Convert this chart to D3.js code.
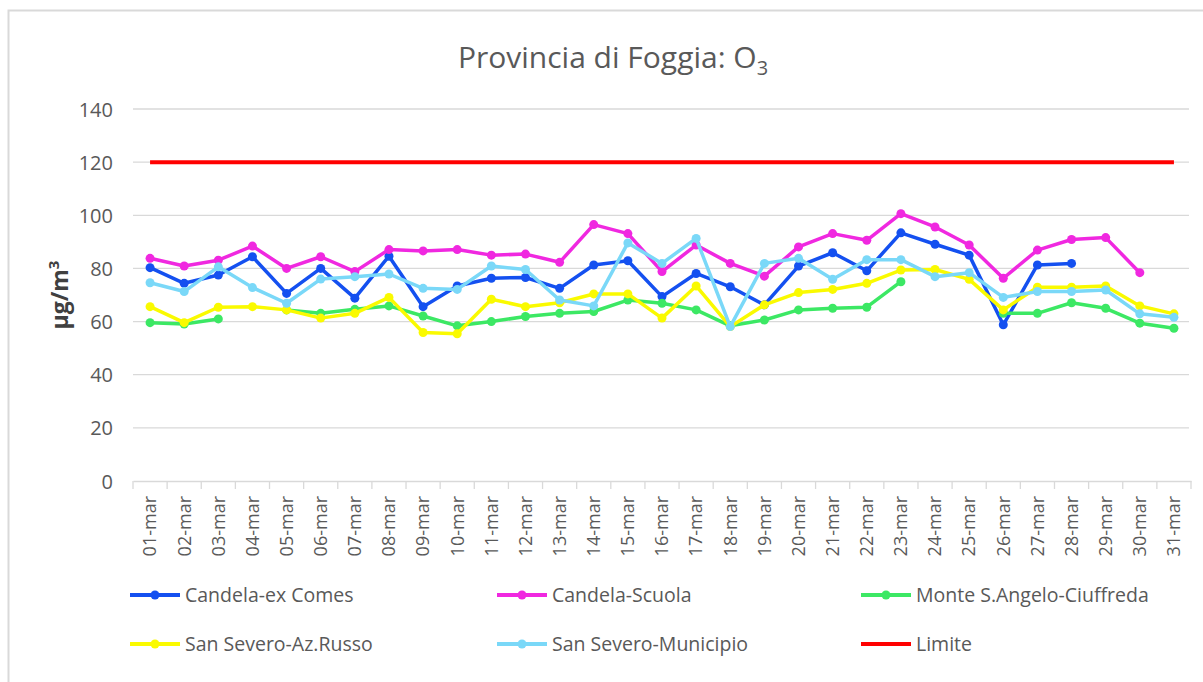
<!DOCTYPE html>
<html>
<head>
<meta charset="utf-8">
<script src="https://cdn.jsdelivr.net/npm/d3@7"></script>
<style>
  body { margin: 0; background: #fff; }
  text { font-family: "Open Sans", "Liberation Sans", sans-serif; fill: #595959; }
</style>
</head>
<body>
<script>
const days = d3.range(1, 32).map(d => (d < 10 ? "0" + d : "" + d) + "-mar");
const yTicks = [0, 20, 40, 60, 80, 100, 120, 140];

const candelaExComes = [80.3, 74.4, 77.5, 84.4, 70.6, 80.0, 68.8, 84.6, 65.6, 73.4,
  76.3, 76.6, 72.5, 81.3, 82.9, 69.4, 78.1, 73.1, 66.3, 80.9,
  85.9, 79.1, 93.4, 89.1, 85.0, 58.8, 81.3, 81.9, null, null, null];
const candelaScuola = [83.8, 80.9, 83.1, 88.4, 80.0, 84.4, 78.8, 87.1, 86.6, 87.1,
  85.0, 85.4, 82.3, 96.5, 93.1, 78.8, 88.8, 81.9, 77.1, 88.1,
  93.1, 90.6, 100.6, 95.6, 88.8, 76.3, 86.9, 90.9, 91.6, 78.4, null];
const monteSAngelo = [59.6, 59.1, 61.0, null, 64.4, 63.1, 64.6, 65.9, 62.1, 58.4,
  60.0, 61.9, 63.1, 63.8, 68.1, 66.9, 64.4, 58.4, 60.6, 64.4,
  65.0, 65.4, 75.0, null, null, 63.1, 63.1, 67.1, 65.0, 59.4, 57.5];
const sanSeveroRusso = [65.6, 59.6, 65.4, 65.6, 64.4, 61.3, 63.1, 69.1, 55.9, 55.4,
  68.4, 65.6, 67.1, 70.4, 70.4, 61.3, 73.4, 58.1, 66.3, 70.9,
  72.1, 74.4, 79.4, 79.6, 75.9, 64.4, 72.9, 72.9, 73.4, 65.9, 62.9];
const sanSeveroMunicipio = [74.6, 71.3, 80.6, 72.8, 66.9, 76.0, 76.9, 77.9, 72.5, 72.1,
  80.9, 79.6, 68.1, 65.9, 89.6, 81.9, 91.3, 58.1, 81.9, 83.8,
  75.9, 83.3, 83.3, 76.9, 78.4, 69.1, 71.3, 71.3, 71.9, 62.9, 61.6];
const limite = days.map(() => 120);

const series = [
  { name: "Candela-ex Comes", values: candelaExComes, color: "#1450f0", dots: true },
  { name: "Candela-Scuola", values: candelaScuola, color: "#f028e0", dots: true },
  { name: "Monte S.Angelo-Ciuffreda", values: monteSAngelo, color: "#3ce864", dots: true },
  { name: "San Severo-Az.Russo", values: sanSeveroRusso, color: "#fafa00", dots: true },
  { name: "San Severo-Municipio", values: sanSeveroMunicipio, color: "#7ad8f8", dots: true },
  { name: "Limite", values: limite, color: "#ff0000", dots: false }
];

const w = 1203, h = 682;
const svg = d3.select("body").append("svg").attr("width", w).attr("height", h);

// chart frame
svg.append("rect")
  .attr("x", 8.5).attr("y", 10.5)
  .attr("width", 1210).attr("height", 700)
  .attr("fill", "none").attr("stroke", "#d9d9d9").attr("stroke-width", 2);

const x = d3.scaleBand().domain(days).range([133, 1191]);
const cx = d => x(d) + x.bandwidth() / 2;
const y = d3.scaleLinear().domain([0, 140]).range([481, 109]);

// gridlines
svg.append("g")
  .selectAll("line")
  .data(yTicks.filter(t => t > 0))
  .enter().append("line")
  .attr("x1", 133).attr("x2", 1189)
  .attr("y1", d => y(d)).attr("y2", d => y(d))
  .attr("stroke", "#d9d9d9").attr("stroke-width", 1.3);

// y axis labels
const yAxis = d3.axisLeft(y).tickValues(yTicks).tickSize(0).tickPadding(0);
const gy = svg.append("g").attr("transform", "translate(113,0)").call(yAxis);
gy.select(".domain").remove();
gy.selectAll("text").style("font-size", "20px").style("fill", "#595959").attr("dy", "0.35em");

// x axis
const xAxis = d3.axisBottom(x).tickSize(0).tickFormat(d => d);
const gx = svg.append("g").attr("transform", "translate(0,481)").call(xAxis);
gx.select(".domain").attr("stroke", "#d9d9d9").attr("stroke-width", 1.3);
gx.selectAll("text")
  .style("font-size", "18px").style("fill", "#595959")
  .attr("transform", "rotate(-90)")
  .attr("text-anchor", "end")
  .attr("x", -15).attr("y", 0).attr("dy", "0.35em");
svg.append("g")
  .selectAll("line")
  .data(days.concat(["end"]))
  .enter().append("line")
  .attr("x1", (d, i) => 133 + i * x.step())
  .attr("x2", (d, i) => 133 + i * x.step())
  .attr("y1", 481).attr("y2", 489)
  .attr("stroke", "#d9d9d9").attr("stroke-width", 1.3);

// lines
const line = d3.line()
  .defined(d => d.v !== null)
  .x(d => cx(d.day))
  .y(d => y(d.v));

series.forEach(s => {
  const pts = s.values.map((v, i) => ({ day: days[i], v: v }));
  svg.append("path")
    .datum(pts)
    .attr("fill", "none")
    .attr("stroke", s.color)
    .attr("stroke-width", s.dots ? 3.5 : 4)
    .attr("stroke-linejoin", "round")
    .attr("d", line);
  if (s.dots) {
    svg.append("g")
      .selectAll("circle")
      .data(pts.filter(p => p.v !== null))
      .enter().append("circle")
      .attr("cx", p => cx(p.day))
      .attr("cy", p => y(p.v))
      .attr("r", 4.5)
      .attr("fill", s.color);
  }
});

// title
const title = svg.append("text")
  .attr("x", 613).attr("y", 68)
  .attr("text-anchor", "middle")
  .style("font-size", "30px")
  .style("fill", "#595959");
title.append("tspan").text("Provincia di Foggia: O");
title.append("tspan").attr("dy", 7).style("font-size", "20px").text("3");

// y axis title
svg.append("text")
  .attr("transform", "translate(68,295) rotate(-90)")
  .attr("text-anchor", "middle")
  .style("font-size", "23px")
  .style("font-weight", "bold")
  .style("fill", "#404040")
  .html('µg/m<tspan dy="-9" style="font-size:15px">3</tspan>');

// legend
const legendPos = [[130, 595], [497, 595], [861, 595], [130, 644], [497, 644], [861, 644]];
const legend = svg.append("g").attr("id", "legend");
series.forEach((s, i) => {
  const [lx, ly] = legendPos[i];
  legend.append("line")
    .attr("x1", lx).attr("x2", lx + 50)
    .attr("y1", ly).attr("y2", ly)
    .attr("stroke", s.color).attr("stroke-width", 4);
  if (s.dots) {
    legend.append("circle").attr("cx", lx + 25).attr("cy", ly).attr("r", 4.5).attr("fill", s.color);
  }
  legend.append("text")
    .attr("x", lx + 55).attr("y", ly)
    .attr("dy", "0.35em")
    .style("font-size", "19.5px")
    .text(s.name);
});
</script>
</body>
</html>
